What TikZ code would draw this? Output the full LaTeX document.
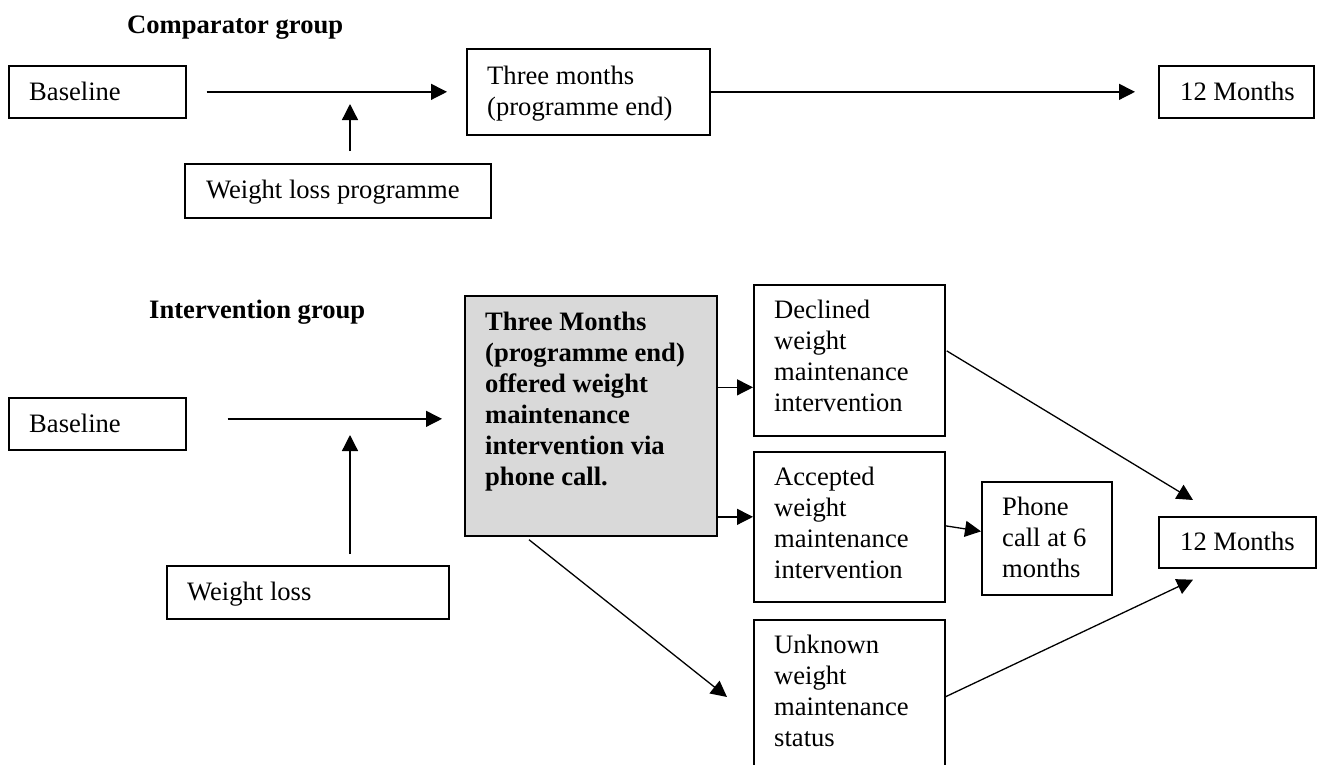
\documentclass[tikz,border=0pt]{standalone}
\usepackage{fontspec}
\setmainfont{Liberation Serif}
\usetikzlibrary{arrows.meta,calc}
\definecolor{boxgray}{HTML}{D9D9D9}
\newcommand{\ml}[1]{\begin{minipage}[t]{300pt}#1\end{minipage}}
\begin{document}
\begin{tikzpicture}[x=1pt,y=-1pt,
  box/.style={draw, line width=1.7pt, inner sep=0pt, anchor=north west},
  txt/.style={inner sep=0pt, anchor=base west, font=\fontsize{26.6pt}{31pt}\selectfont},
  btxt/.style={txt, font=\fontsize{26.6pt}{31pt}\selectfont\bfseries},
  arr/.style={line width=1.3pt, -{Triangle[length=16pt,width=16pt]}}]
\useasboundingbox (0,0) rectangle (1323,764);
\clip (0,0) rectangle (1323,764);

% ---------- Comparator group ----------
\node[btxt] (cg) at (127,33) {Comparator group};

\node[box, minimum width=177pt, minimum height=52pt] (b1) at (8,65) {};
\node[txt] (b1t) at (29,100) {Baseline};

\node[box, minimum width=243pt, minimum height=86pt] (tm) at (466,48) {};
\node[txt] (tmt) at (487,84) {\ml{Three months\\(programme end)}};

\node[box, minimum width=306pt, minimum height=54pt] (wlp) at (184,163) {};
\node[txt] (wlpt) at (206,198) {Weight loss programme};

\node[box, minimum width=155pt, minimum height=52pt] (ma) at (1158,65) {};
\node[txt] (mat) at (1180,100) {12 Months};

\draw[arr] ($(b1.east)+(20,0)$) -- ($(tm.west|-b1.east)+(-19,0)$);
\draw[arr] ($(wlp.north west)+(166,-12)$) -- ($(wlp.north west)+(166,-59)$);
\draw[arr] (tm.east|-b1.east) -- ($(ma.west|-b1.east)+(-23,0)$);

% ---------- Intervention group ----------
\node[btxt] (ig) at (149,318) {Intervention group};

\node[box, minimum width=177pt, minimum height=52pt] (b2) at (8,397) {};
\node[txt] (b2t) at (29,432) {Baseline};

\node[box, minimum width=282pt, minimum height=53pt] (wl) at (166,565) {};
\node[txt] (wlt) at (187,600) {Weight loss};

\node[box, fill=boxgray, minimum width=252pt, minimum height=240pt] (g) at (464,295) {};
\node[btxt] (gt) at (485,330)
  {\ml{Three Months\\(programme end)\\offered weight\\maintenance\\intervention via\\phone call.}};

\node[box, minimum width=191pt, minimum height=151pt] (dec) at (753,284) {};
\node[txt] (dect) at (774,318) {\ml{Declined\\weight\\maintenance\\intervention}};

\node[box, minimum width=191pt, minimum height=150pt] (acc) at (753,451) {};
\node[txt] (acct) at (774,485) {\ml{Accepted\\weight\\maintenance\\intervention}};

\node[box, minimum width=191pt, minimum height=161pt] (unk) at (753,619) {};
\node[txt] (unkt) at (774,653) {\ml{Unknown\\weight\\maintenance\\status}};

\node[box, minimum width=130pt, minimum height=113pt] (ph) at (981,481) {};
\node[txt] (pht) at (1002,515) {\ml{Phone\\call at 6\\months}};

\node[box, minimum width=157pt, minimum height=51pt] (mb) at (1158,516) {};
\node[txt] (mbt) at (1180,550) {12 Months};

\draw[arr] ($(b2.east)+(41,-5)$) -- ($(g.west|-b2.east)+(-22,-5)$);
\draw[arr] ($(wl.north west)+(184,-11)$) -- ($(wl.north west)+(184,-130)$);
\draw[arr] ($(dec.west)+(-35,27)$) -- ($(dec.west)+(0,27)$);
\draw[arr] ($(acc.west)+(-37,-10)$) -- ($(acc.west)+(0,-10)$);
\draw[arr] ($(acc.east)+(0,-1)$) -- ($(ph.west)+(0,-7)$);
\draw[arr] ($(g.south west)+(65,3)$) -- ($(unk.north west)+(-26,78)$);
\draw[arr] ($(dec.east)+(1,-9.5)$) -- ($(mb.north west)+(35,-16)$);
\draw[arr] ($(unk.north west)+(192,78)$) -- ($(mb.south west)+(35,11)$);
\end{tikzpicture}
\end{document}
